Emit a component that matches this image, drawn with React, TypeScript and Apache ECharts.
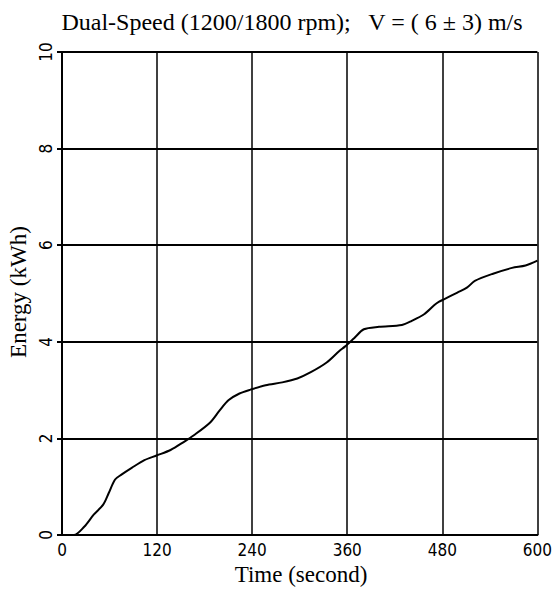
import React, { useEffect, useRef } from "react";
import * as echarts from "echarts";

const timeSec = [0, 15, 28, 40, 52, 59, 67, 75, 88, 104, 120, 137, 154, 166, 187, 199, 210, 224, 238, 257, 278, 297, 314, 334, 350, 357, 369, 381, 400, 429, 441, 457, 470, 476, 482, 499, 511, 521, 544, 568, 585, 600];
const energyKWh = [0, 0, 0.17, 0.42, 0.63, 0.87, 1.15, 1.25, 1.39, 1.55, 1.65, 1.76, 1.93, 2.06, 2.33, 2.58, 2.79, 2.93, 3.01, 3.1, 3.16, 3.24, 3.37, 3.57, 3.81, 3.9, 4.08, 4.26, 4.31, 4.35, 4.43, 4.57, 4.76, 4.83, 4.88, 5.02, 5.12, 5.26, 5.41, 5.53, 5.58, 5.68];

const titleText = "Dual-Speed (1200/1800 rpm);   V = ( 6 \u00b1 3) m/s";
const xName = "Time (second)";
const yName = "Energy (kWh)";

export default function App() {
  const ref = useRef<HTMLDivElement>(null);
  useEffect(() => {
    if (!ref.current) return;
    const chart = echarts.init(ref.current, null, { renderer: "svg" });
    const serif = "'Liberation Serif', 'Times New Roman', serif";
    const narrow = "'Liberation Sans Narrow', 'DejaVu Sans Condensed', sans-serif";
    chart.setOption({
      animation: false,
      backgroundColor: "#ffffff",
      grid: { left: 62, right: 11, top: 52, bottom: 54, containLabel: false },
      graphic: [
        {
          type: "text",
          x: 292,
          y: 22,
          style: { text: titleText, font: `24px ${serif}`, fill: "#000", textAlign: "center", textVerticalAlign: "middle" },
        },
        {
          type: "text",
          x: 301,
          y: 574,
          style: { text: xName, font: `23px ${serif}`, fill: "#000", textAlign: "center", textVerticalAlign: "middle" },
        },
        {
          type: "text",
          x: 18,
          y: 292,
          rotation: Math.PI / 2,
          style: { text: yName, font: `23px ${serif}`, fill: "#000", textAlign: "center", textVerticalAlign: "middle" },
        },
      ],
      xAxis: {
        type: "value",
        min: 0,
        max: 600,
        interval: 120,
        axisLine: { show: true, lineStyle: { color: "#000", width: 2 } },
        axisTick: { show: false },
        axisLabel: { color: "#000", fontFamily: narrow, fontSize: 17, margin: 6 },
        splitLine: { show: true, lineStyle: { color: "#000", width: 1.5 } },
      },
      yAxis: {
        type: "value",
        min: 0,
        max: 10,
        interval: 2,
        axisLine: { show: true, lineStyle: { color: "#000", width: 2 } },
        axisTick: { show: true, inside: false, length: 5, lineStyle: { color: "#000", width: 2 } },
        axisLabel: { color: "#000", fontFamily: narrow, fontSize: 17, rotate: 90, margin: 8 },
        splitLine: { show: true, lineStyle: { color: "#000", width: 2 } },
      },
      series: [
        {
          type: "line",
          data: timeSec.map((t, i) => [t, energyKWh[i]]),
          showSymbol: false,
          symbol: "none",
          smooth: 0.3,
          lineStyle: { color: "#000", width: 2 },
        },
      ],
    });
    return () => chart.dispose();
  }, []);
  return <div ref={ref} style={{ position: "fixed", left: 0, top: 0, width: 555, height: 589, background: "#fff" }} />;
}
